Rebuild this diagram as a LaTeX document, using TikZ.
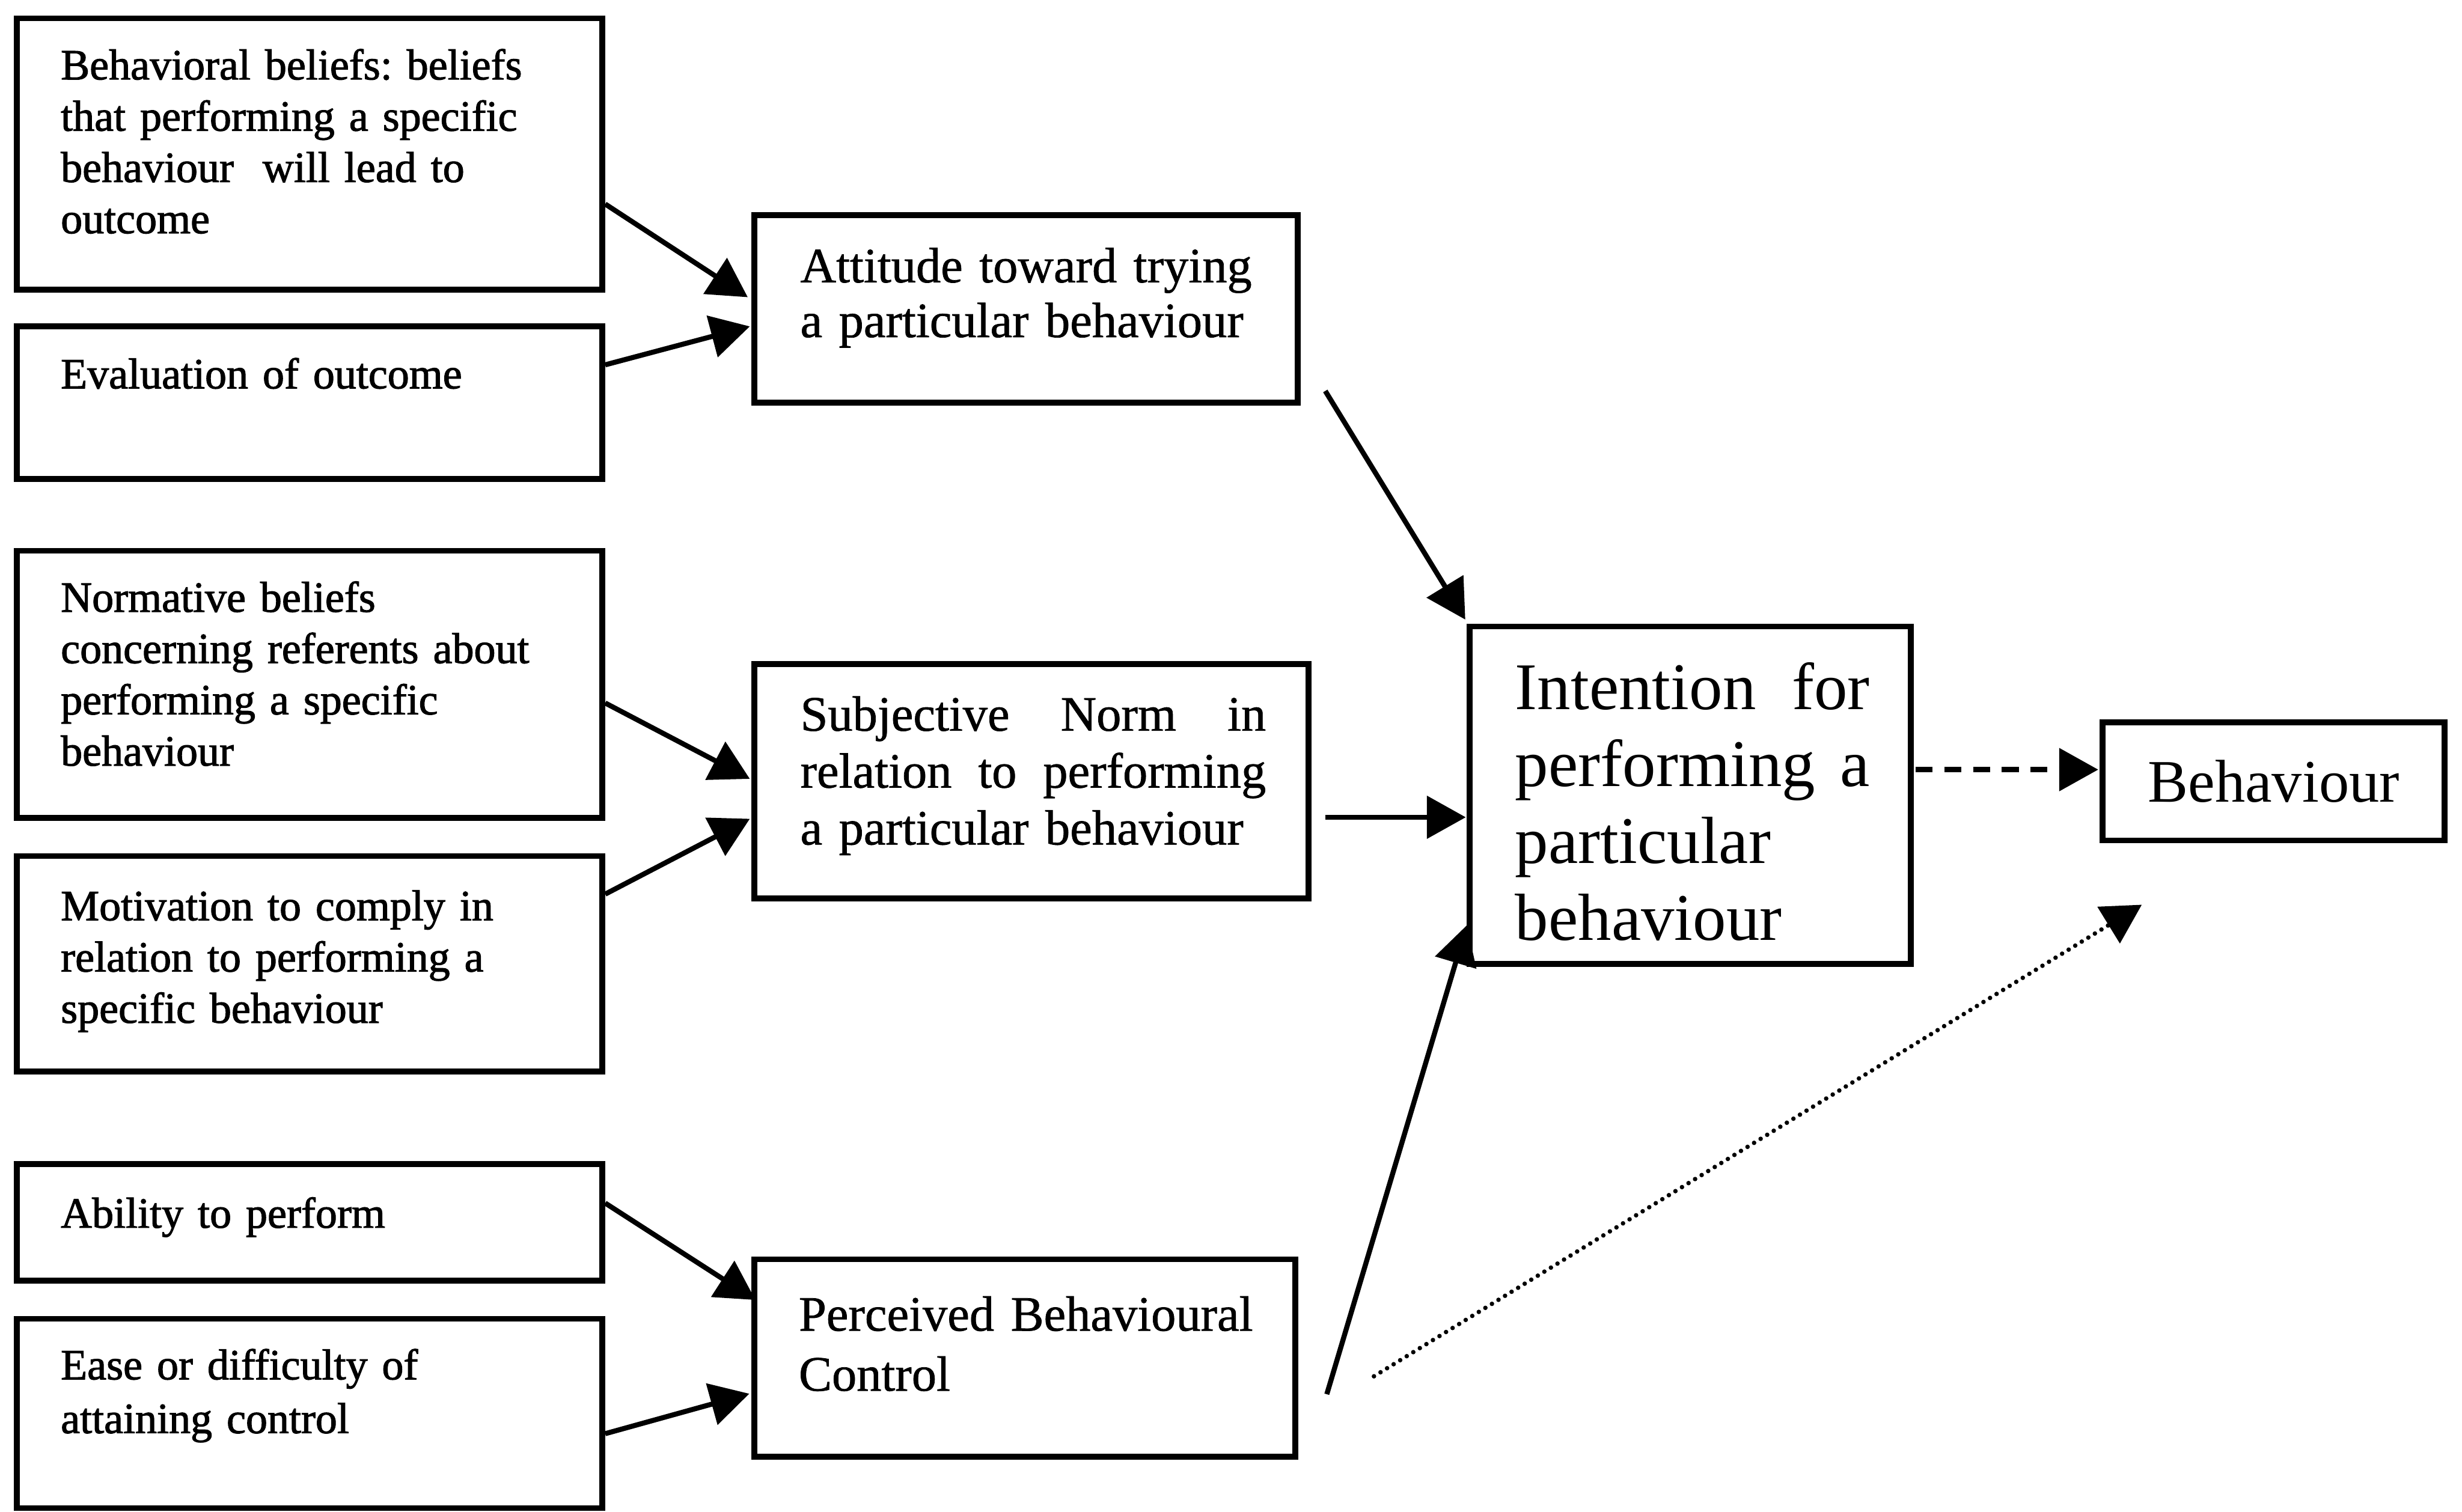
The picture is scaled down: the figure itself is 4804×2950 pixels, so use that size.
\documentclass[tikz,border=0pt]{standalone}
\usepackage{fontspec}
\setmainfont{Liberation Serif}
\newfontfamily\heavyfont[RawFeature={embolden=1.6}]{Liberation Serif}
\newfontfamily\midfont[RawFeature={embolden=0.9}]{Liberation Serif}
\usetikzlibrary{arrows.meta,calc}
\begin{document}
\frenchspacing
\begin{tikzpicture}[x=0.01cm,y=-0.01cm,
  box/.style={draw, line width=3.2pt, inner sep=0pt, rectangle},
  lt/.style={anchor=base west, inner sep=0pt, align=left, text width=10.5cm, font=\heavyfont\fontsize{24}{28.45}\selectfont},
  mt/.style={anchor=base west, inner sep=0pt, align=left, text width=9.3cm, font=\midfont\fontsize{27.5}{30.4}\selectfont},
  arr/.style={line width=2.8pt, -{Triangle[length=0.76cm,width=0.82cm]}}]
\fill[white] (0,0) rectangle (4804,2950);
\useasboundingbox (0,0) rectangle (4804,2950);
% boxes
\node[box, minimum width=11.42cm, minimum height=5.29cm] (bb) at (604,300.5) {};
\node[box, minimum width=11.42cm, minimum height=2.98cm] (ev) at (604,786) {};
\node[box, minimum width=11.42cm, minimum height=5.21cm] (nb) at (604,1335.5) {};
\node[box, minimum width=11.42cm, minimum height=4.20cm] (mo) at (604,1881) {};
\node[box, minimum width=11.42cm, minimum height=2.27cm] (ab) at (604,2385.5) {};
\node[box, minimum width=11.42cm, minimum height=3.69cm] (ea) at (604,2758.5) {};
\node[box, minimum width=10.60cm, minimum height=3.66cm] (att) at (2002,603) {};
\node[box, minimum width=10.81cm, minimum height=4.57cm] (sn) at (2012.5,1524.5) {};
\node[box, minimum width=10.55cm, minimum height=3.85cm] (pbc) at (1999.5,2650.5) {};
\node[box, minimum width=8.60cm, minimum height=6.58cm] (int) at (3298,1552) {};
\node[box, minimum width=6.67cm, minimum height=2.30cm, font=\fontsize{33.5}{38}\selectfont] (beh) at (4436.5,1525) {Behaviour};
% texts
\node[lt] (bbt) at (118,155) {Behavioral beliefs: beliefs\\that performing a specific\\behaviour\ \ will lead to\\outcome};
\node[lt] (evt) at (118,758) {Evaluation of outcome};
\node[lt] (nbt) at (118,1194) {Normative beliefs\\concerning referents about\\performing a specific\\behaviour};
\node[lt] (mot) at (118,1796) {Motivation to comply in\\relation to performing a\\specific behaviour};
\node[lt] (abt) at (118,2396) {Ability to perform};
\node[lt, font=\heavyfont\fontsize{24}{29.8}\selectfont] (eat) at (118,2692) {Ease or difficulty of\\attaining control};
\node[mt] (attt) at (1561,551) {Attitude toward trying\\a particular behaviour};
\node[mt, font=\midfont\fontsize{27.5}{31.6}\selectfont] (snt) at (1561,1426) {\makebox[9.08cm][l]{Subjective\hfill Norm\hfill in}\\\makebox[9.08cm][l]{relation\hfill to\hfill performing}\\a particular behaviour};
\node[mt, font=\midfont\fontsize{27.5}{33.3}\selectfont] (pbct) at (1558,2597) {Perceived Behavioural\\Control};
\node[anchor=base west, inner sep=0pt, align=left, text width=7.2cm, font=\fontsize{37}{42.7}\selectfont] (intt) at (2956,1384) {\makebox[6.91cm][l]{Intention\hfill for}\\\makebox[6.91cm][l]{performing\hfill a}\\particular\\behaviour};
% connectors
\draw[arr] ($(bb.north east)+(0,368)$) -- ($(att.west)+(-7,-23)$);
\draw[arr] ($(ev.east)+(0,-74)$) -- ($(att.west)+(-3,34)$);
\draw[arr] ($(nb.east)+(0,36.5)$) -- ($(sn.west)+(-3,-4.5)$);
\draw[arr] ($(mo.east)+(0,-136)$) -- ($(sn.west)+(-3,73.5)$);
\draw[arr] ($(ab.east)+(0,-37.5)$) -- ($(pbc.west)+(8,-113.5)$);
\draw[arr] ($(ea.east)+(0,39.5)$) -- ($(pbc.west)+(-4,69.5)$);
\draw[arr] ($(att.east)+(48,160)$) -- ($(int.north west)+(-3,-8)$);
\draw[arr] ($(sn.east)+(27,70.5)$) -- ($(int.west)+(-2,43)$);
\draw[arr] ($(pbc.east)+(56,70.5)$) -- ($(int.south west)+(0,-81)$);
\draw[arr, dash pattern=on 0.33cm off 0.23cm] ($(int.east)+(4,-50)$) -- ($(beh.west)+(-3,-23)$);
\draw[arr, line width=2.5pt, dash pattern=on 0pt off 0.15cm, line cap=round] ($(pbc.east)+(148,35.5)$) -- ($(beh.south west)+(82,120)$);
\end{tikzpicture}
\end{document}
